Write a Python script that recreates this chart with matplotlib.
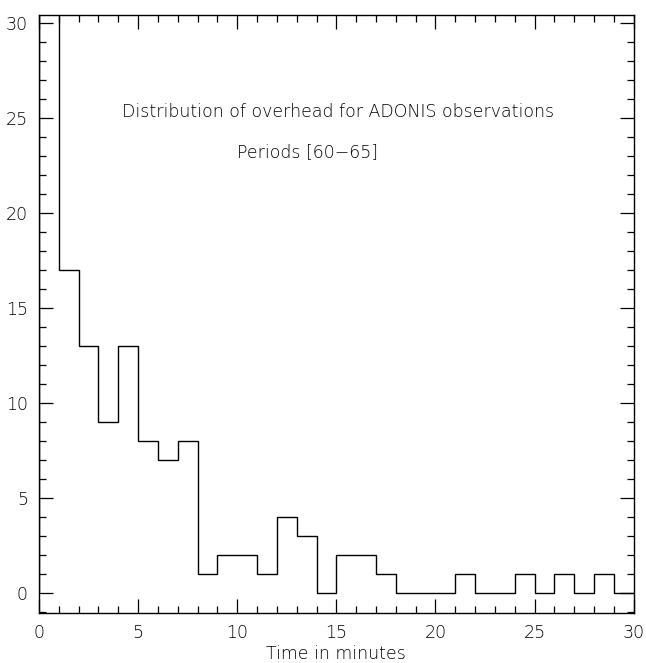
import matplotlib
matplotlib.use("Agg")
import matplotlib.pyplot as plt
import numpy as np
from matplotlib.ticker import MultipleLocator

bin_edges = list(range(0, 31))
counts = [45, 17, 13, 9, 13, 8, 7, 8, 1, 2, 2, 1, 4, 3, 0, 2, 2, 1, 0, 0,
          0, 1, 0, 0, 1, 0, 1, 0, 1, 0]
title_line1 = "Distribution of overhead for ADONIS observations"
title_line2 = "Periods [60\u221265]"
xlabel = "Time in minutes"

plt.rcParams["font.family"] = ["DejaVu Sans"]
plt.rcParams["font.weight"] = "light"

fig = plt.figure(figsize=(6.46, 6.63), dpi=100)
ax = fig.add_axes([0.0604, 0.0754, 0.9206, 0.9016])

ax.stairs(counts, bin_edges, color="black", linewidth=1.0)

ax.set_xlim(0, 30)
ax.set_ylim(-1.05, 30.4)
ax.xaxis.set_major_locator(MultipleLocator(5))
ax.xaxis.set_minor_locator(MultipleLocator(1))
ax.yaxis.set_major_locator(MultipleLocator(5))
ax.yaxis.set_minor_locator(MultipleLocator(1))
ax.tick_params(which="both", direction="in", top=True, right=True,
               labelsize=12.5, width=0.9, colors="black")
ax.tick_params(which="major", length=10, pad=8)
ax.tick_params(which="minor", length=5)
for s in ax.spines.values():
    s.set_linewidth(1.0)

ax.set_xlabel(xlabel, fontsize=12.5, labelpad=2, fontweight="light")
ax.text(15.1, 25.3, title_line1, ha="center", va="center", fontsize=12.5,
        fontweight="light")
ax.text(10.0, 23.2, title_line2, ha="left", va="center", fontsize=12.5,
        fontweight="light")

fig.savefig("out.png", dpi=100)
